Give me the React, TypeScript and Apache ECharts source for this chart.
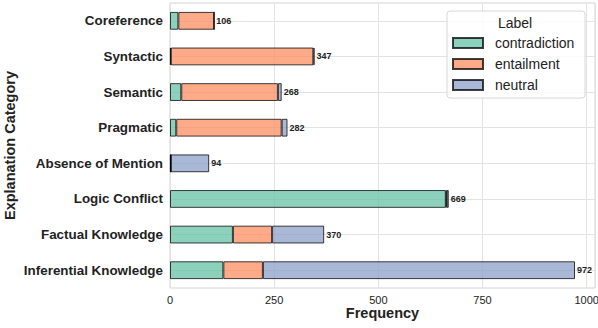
import React, { useEffect, useRef } from "react";
import * as echarts from "echarts";

const categories = [
  "Coreference",
  "Syntactic",
  "Semantic",
  "Pragmatic",
  "Absence of Mention",
  "Logic Conflict",
  "Factual Knowledge",
  "Inferential Knowledge",
];
const contradiction = [20, 2, 27, 15, 2, 662, 151, 128];
const entailment = [86, 342, 232, 253, 0, 2, 94, 95];
const neutral = [0, 3, 9, 14, 92, 5, 125, 749];
const xTicks = [0, 250, 500, 750, 1000];

const FONT = "'Liberation Sans', Arial, Helvetica, sans-serif";

export default function App() {
  const ref = useRef<HTMLDivElement>(null);
  useEffect(() => {
    if (!ref.current) return;
    const chart = echarts.init(ref.current, undefined, { renderer: "svg" });
    const totals = categories.map((_, i) => contradiction[i] + entailment[i] + neutral[i]);
    const border = { borderColor: "rgba(0,0,0,0.75)", borderWidth: 1 };
    const mk = (name: string, data: number[], color: string) => ({
      name,
      type: "bar",
      stack: "s",
      data,
      barWidth: "50%",
      itemStyle: { color, ...border },
    });
    chart.setOption({
      animation: false,
      backgroundColor: "#fff",
      textStyle: { fontFamily: FONT },
      grid: {
        left: 170,
        top: 3,
        width: 425,
        height: 285,
        outerBoundsMode: "none",
        containLabel: false,
        show: true,
        borderColor: "#d4d4d4",
        borderWidth: 1,
        backgroundColor: "transparent",
      },
      xAxis: {
        type: "value",
        min: 0,
        max: 1020,
        interval: 250,
        name: "Frequency",
        nameLocation: "middle",
        nameMoveOverlap: false,
        nameGap: 17,
        nameTextStyle: { fontFamily: FONT, fontWeight: "bold", fontSize: 14.5, lineHeight: 15, color: "#222" },
        axisLine: { show: false },
        axisTick: { show: false },
        axisLabel: {
          fontFamily: FONT,
          fontSize: 11,
          lineHeight: 11,
          color: "#222",
          margin: 6,
          formatter: (v: number) => (xTicks.includes(v) ? String(v) : ""),
        },
        splitLine: { show: true, lineStyle: { color: "#e3e3e3", width: 1 } },
      },
      yAxis: {
        type: "category",
        data: categories,
        inverse: true,
        name: "Explanation Category",
        nameLocation: "middle",
        nameMoveOverlap: false,
        nameGap: 153,
        nameTextStyle: { fontFamily: FONT, fontWeight: "bold", fontSize: 14.5, color: "#222" },
        axisLine: { show: false },
        axisTick: { show: false },
        axisLabel: { fontFamily: FONT, fontWeight: "bold", fontSize: 13.4, color: "#222", margin: 7 },
        splitLine: { show: false },
      },
      legend: {
        data: ["contradiction", "entailment", "neutral"],
        orient: "vertical",
        left: 452,
        top: 36,
        itemWidth: 30,
        itemHeight: 10,
        itemGap: 7,
        padding: 0,
        icon: "rect",
        formatter: (n: string) => `{t|${n}}`,
        textStyle: {
          fontFamily: FONT,
          fontSize: 14,
          color: "#222",
          rich: { t: { fontFamily: FONT, fontSize: 14, color: "#222", padding: [0, 0, 0, 7] } },
        },
      },
      graphic: [
        {
          type: "rect",
          z: 3,
          shape: { x: 447, y: 11, width: 138, height: 87, r: 3 },
          style: { fill: "rgba(255,255,255,0.85)", stroke: "#d8d8d8", lineWidth: 1 },
        },
        {
          type: "text",
          z: 4,
          x: 515,
          y: 23,
          style: {
            text: "Label",
            fontFamily: FONT,
            fontSize: 14,
            fill: "#222",
            align: "center",
            verticalAlign: "middle",
          },
        },
      ],
      series: [
        {
          ...mk("contradiction", contradiction, "rgba(102,194,165,0.75)"),
          markLine: {
            silent: true,
            z: 1,
            symbol: "none",
            label: { show: false },
            lineStyle: { color: "#e3e3e3", width: 1, type: "solid" },
            data: categories.map((c) => ({ yAxis: c })),
          },
        },
        mk("entailment", entailment, "rgba(252,141,98,0.75)"),
        mk("neutral", neutral, "rgba(141,160,203,0.75)"),
        {
          name: "total",
          type: "bar",
          stack: "s",
          data: categories.map(() => 0),
          barWidth: "50%",
          itemStyle: { color: "transparent", borderWidth: 0 },
          label: {
            show: true,
            position: "right",
            distance: 2,
            fontFamily: FONT,
            fontWeight: "bold",
            fontSize: 9,
            color: "#222",
            formatter: (p: any) => String(totals[p.dataIndex]),
          },
        },
      ],
    });
    return () => chart.dispose();
  }, []);
  return <div ref={ref} style={{ width: 598, height: 328, position: "absolute", left: 0, top: 0 }} />;
}
